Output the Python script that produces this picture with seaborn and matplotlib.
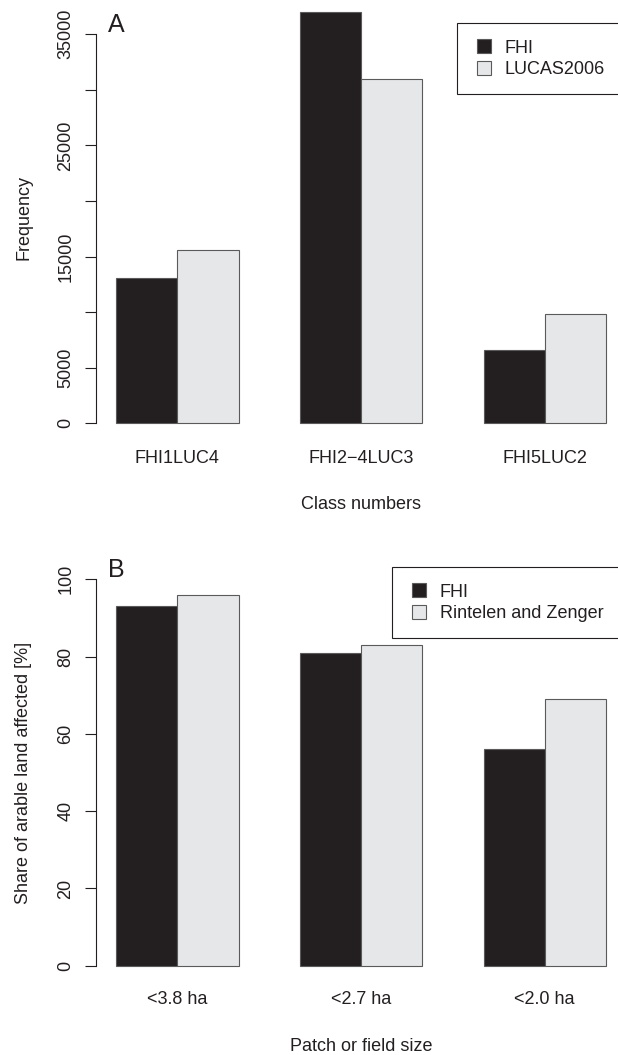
import matplotlib
matplotlib.use("Agg")
import matplotlib.pyplot as plt
import matplotlib.transforms as mtransforms
from matplotlib.lines import Line2D
import pandas as pd
import seaborn as sns

# panel A: frequency per class
classes = ["FHI1LUC4", "FHI2\u22124LUC3", "FHI5LUC2"]
fhi_freq = [13100, 37000, 6600]
lucas_freq = [15600, 31000, 9850]
freq_ticks = [0, 5000, 10000, 15000, 20000, 25000, 30000, 35000]
freq_labels = ["0", "5000", "", "15000", "", "25000", "", "35000"]

# panel B: share of arable land
sizes = ["<3.8 ha", "<2.7 ha", "<2.0 ha"]
fhi_share = [93, 81, 56]
rintelen_share = [96, 83, 69]
share_ticks = [0, 20, 40, 60, 80, 100]
share_labels = ["0", "20", "40", "60", "80", "100"]

dark = "#231f20"
light = "#e6e7e8"
edge = "#5a5a5a"

sns.set_style("white")
plt.rcParams["font.family"] = ["Liberation Sans", "DejaVu Sans"]
plt.rcParams["text.color"] = dark
plt.rcParams["axes.labelcolor"] = dark
plt.rcParams["xtick.color"] = dark
plt.rcParams["ytick.color"] = dark

W, H = 618, 1055
fig = plt.figure(figsize=(W / 100, H / 100), dpi=100)


def px_axes(left, right, bottom, top):
    return fig.add_axes([left / W, 1 - bottom / H, (right - left) / W, (bottom - top) / H])


def draw_panel(ax, cats, a, b, names, yticks, ylabels, ymax, xlabel, ylabel,
               letter, leg_xy, xlabelpad):
    df = pd.DataFrame({
        "cat": cats + cats,
        "val": a + b,
        "src": [names[0]] * len(cats) + [names[1]] * len(cats),
    })
    sns.barplot(data=df, x="cat", y="val", hue="src", palette=[dark, light],
                width=2 / 3, saturation=1, errorbar=None, edgecolor=edge,
                linewidth=0.8, ax=ax, legend=False)
    span = 8 / 3
    ax.set_xlim(-1 / 3 - 0.04 * span, 7 / 3 + 0.04 * span)
    ax.set_ylim(-0.04 * ymax, 1.04 * ymax)

    for s in ["top", "right", "bottom"]:
        ax.spines[s].set_visible(False)
    ax.spines["left"].set_bounds(yticks[0], yticks[-1])
    ax.spines["left"].set_color(dark)
    ax.spines["left"].set_linewidth(0.8)

    ax.set_yticks(yticks)
    ax.set_yticklabels(ylabels)
    ax.tick_params(axis="y", left=True, direction="out", length=8, width=0.8,
                   pad=8, labelsize=13, labelrotation=90)
    plt.setp(ax.get_yticklabels(), va="center")
    ax.tick_params(axis="x", bottom=False, length=0, pad=7, labelsize=13)

    ax.set_xlabel(xlabel, fontsize=13, labelpad=xlabelpad)
    ax.set_ylabel(ylabel, fontsize=13)
    blend = mtransforms.blended_transform_factory(fig.transFigure, ax.transAxes)
    ax.yaxis.set_label_coords(32 / W, 0.5, transform=blend)

    handles = [Line2D([], [], marker="s", linestyle="", markersize=10,
                      markerfacecolor=c, markeredgecolor=edge, markeredgewidth=0.8)
               for c in (dark, light)]
    leg = ax.legend(handles, names, loc="upper left",
                    bbox_to_anchor=(leg_xy[0] / W, 1 - leg_xy[1] / H),
                    bbox_transform=fig.transFigure, borderaxespad=0,
                    fontsize=13, frameon=True, fancybox=False, framealpha=1,
                    borderpad=0.9, handlelength=1.2, handletextpad=0.55,
                    labelspacing=0.25)
    leg.get_frame().set_edgecolor(dark)
    leg.get_frame().set_linewidth(0.8)

    fig.text(letter[1] / W, 1 - letter[2] / H, letter[0], fontsize=18,
             ha="center", va="center", color=dark)


ax_a = px_axes(96.4, 625.6, 439.8, -4.6)
draw_panel(ax_a, classes, fhi_freq, lucas_freq, ["FHI", "LUCAS2006"],
           freq_ticks, freq_labels, max(fhi_freq + lucas_freq),
           "Class numbers", "Frequency", ("A", 116.5, 25), (456.7, 23.3), 21)

ax_b = px_axes(96.4, 625.6, 981.2, 563.8)
draw_panel(ax_b, sizes, fhi_share, rintelen_share, ["FHI", "Rintelen and Zenger"],
           share_ticks, share_labels, 100,
           "Patch or field size", "Share of arable land affected [%]",
           ("B", 116.5, 570), (391.7, 567.3), 22)

fig.savefig("out.png", dpi=100)
